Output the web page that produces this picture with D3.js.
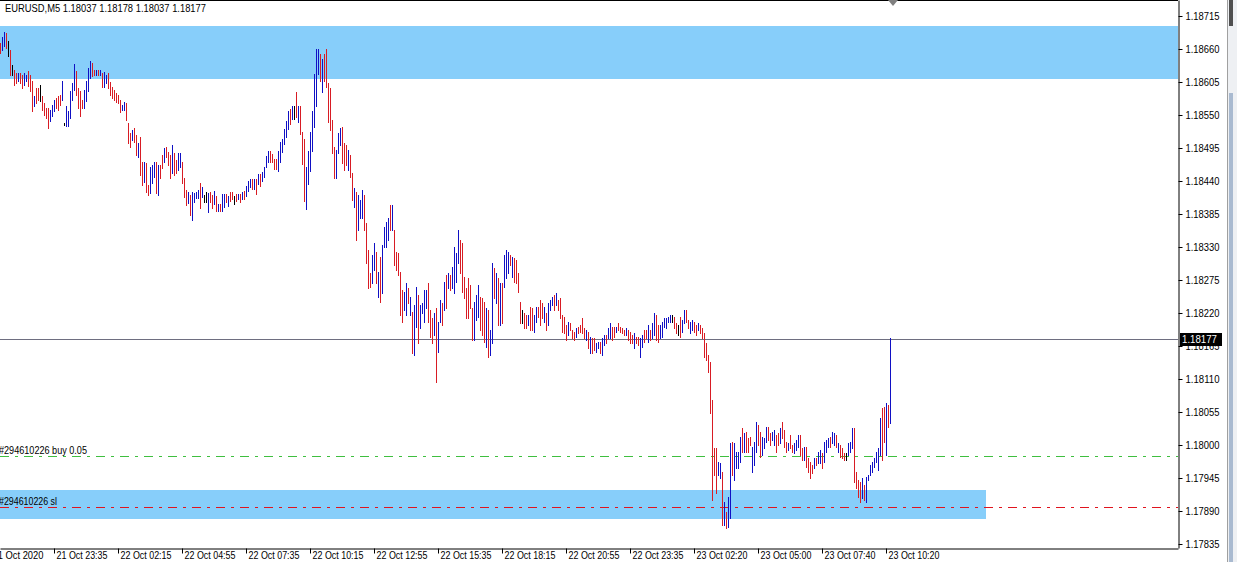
<!DOCTYPE html>
<html><head><meta charset="utf-8">
<script src="https://cdn.jsdelivr.net/npm/d3@7"></script>
<style>
html,body{margin:0;padding:0;background:#fff;overflow:hidden}
svg{display:block}
text{font-family:"Liberation Sans",Arial,sans-serif;font-size:10.5px;fill:#000}
</style>
</head><body>
<svg id="chart" width="1237" height="562"></svg>
<script>
// ---------- data (EURUSD, M5) ----------
const highs = [
1.18670,1.18680,1.18688,1.18687,1.18673,1.18658,1.18633,1.18625,1.18620,1.18620,
1.18620,1.18617,1.18620,1.18617,1.18623,1.18617,1.18607,1.18582,1.18595,1.18595,
1.18600,1.18582,1.18570,1.18562,1.18562,1.18558,1.18567,1.18575,1.18578,1.18582,
1.18583,1.18607,1.18536,1.18565,1.18557,1.18590,1.18603,1.18635,1.18623,1.18595,
1.18590,1.18575,1.18592,1.18607,1.18628,1.18640,1.18637,1.18625,1.18625,1.18625,
1.18625,1.18620,1.18622,1.18617,1.18620,1.18605,1.18597,1.18592,1.18587,1.18583,
1.18575,1.18567,1.18572,1.18570,1.18537,1.18520,1.18525,1.18528,1.18517,1.18503,
1.18513,1.18472,1.18472,1.18470,1.18433,1.18463,1.18467,1.18472,1.18472,1.18467,
1.18467,1.18483,1.18495,1.18497,1.18488,1.18483,1.18500,1.18487,1.18475,1.18487,
1.18487,1.18472,1.18445,1.18425,1.18422,1.18417,1.18422,1.18420,1.18422,1.18425,
1.18437,1.18430,1.18417,1.18422,1.18420,1.18422,1.18417,1.18423,1.18415,1.18402,
1.18402,1.18418,1.18418,1.18418,1.18415,1.18422,1.18422,1.18415,1.18418,1.18418,
1.18418,1.18422,1.18423,1.18432,1.18440,1.18443,1.18443,1.18443,1.18443,1.18452,
1.18452,1.18455,1.18463,1.18482,1.18490,1.18490,1.18485,1.18477,1.18477,1.18490,
1.18505,1.18510,1.18527,1.18540,1.18557,1.18560,1.18565,1.18565,1.18588,1.18565,
1.18565,1.18522,1.18510,1.18463,1.18490,1.18522,1.18557,1.18618,1.18660,1.18660,
1.18652,1.18643,1.18652,1.18660,1.18603,1.18595,1.18542,1.18497,1.18492,1.18520,
1.18528,1.18530,1.18503,1.18500,1.18492,1.18483,1.18453,1.18428,1.18422,1.18417,
1.18408,1.18425,1.18417,1.18370,1.18325,1.18287,1.18317,1.18337,1.18322,1.18288,
1.18313,1.18333,1.18363,1.18372,1.18378,1.18400,1.18400,1.18358,1.18322,1.18320,
1.18288,1.18258,1.18255,1.18270,1.18262,1.18247,1.18222,1.18233,1.18263,1.18250,
1.18233,1.18237,1.18258,1.18258,1.18270,1.18225,1.18212,1.18220,1.18228,1.18205,
1.18242,1.18237,1.18272,1.18283,1.18287,1.18283,1.18297,1.18330,1.18320,1.18358,
1.18342,1.18337,1.18280,1.18262,1.18278,1.18267,1.18228,1.18238,1.18250,1.18267,
1.18247,1.18245,1.18238,1.18228,1.18225,1.18192,1.18303,1.18295,1.18287,1.18278,
1.18270,1.18270,1.18317,1.18325,1.18322,1.18317,1.18313,1.18312,1.18308,1.18287,
1.18238,1.18225,1.18220,1.18217,1.18217,1.18230,1.18228,1.18217,1.18230,1.18230,
1.18242,1.18237,1.18230,1.18220,1.18237,1.18242,1.18247,1.18250,1.18253,1.18242,
1.18245,1.18217,1.18213,1.18200,1.18205,1.18203,1.18192,1.18188,1.18195,1.18197,
1.18200,1.18212,1.18195,1.18192,1.18188,1.18180,1.18178,1.18178,1.18170,1.18172,
1.18172,1.18178,1.18183,1.18183,1.18195,1.18203,1.18197,1.18197,1.18197,1.18203,
1.18197,1.18195,1.18192,1.18195,1.18192,1.18188,1.18183,1.18187,1.18180,1.18180,
1.18178,1.18183,1.18192,1.18192,1.18200,1.18192,1.18203,1.18220,1.18217,1.18200,
1.18200,1.18205,1.18212,1.18212,1.18213,1.18217,1.18217,1.18213,1.18203,1.18200,
1.18213,1.18208,1.18225,1.18225,1.18208,1.18205,1.18208,1.18205,1.18200,1.18203,
1.18200,1.18195,1.18187,1.18170,1.18150,1.18138,1.18075,1.17995,1.17995,1.17972,
1.17970,1.17955,1.17905,1.17888,1.17913,1.18003,1.18005,1.18003,1.17988,1.17988,
1.18013,1.18028,1.18020,1.18022,1.18012,1.18013,1.17997,1.18005,1.18038,1.18033,
1.18022,1.18013,1.18012,1.18030,1.18030,1.18020,1.18022,1.18025,1.18017,1.18020,
1.18028,1.18038,1.18025,1.18005,1.18003,1.18017,1.18000,1.18003,1.18008,1.18017,
1.18017,1.17995,1.17997,1.17997,1.17978,1.17972,1.17967,1.17978,1.17978,1.17988,
1.17992,1.17987,1.18005,1.18008,1.18012,1.18013,1.18022,1.18020,1.18017,1.18003,
1.18000,1.17995,1.17987,1.17987,1.18003,1.18005,1.18028,1.18028,1.17955,1.17942,
1.17938,1.17945,1.17933,1.17947,1.17950,1.17967,1.17972,1.17978,1.17988,1.17995,
1.18045,1.18062,1.18063,1.18070,1.18067,1.18178
];
const lows = [
1.18653,1.18658,1.18665,1.18662,1.18648,1.18617,1.18617,1.18600,1.18603,1.18607,
1.18603,1.18595,1.18600,1.18607,1.18598,1.18590,1.18557,1.18565,1.18570,1.18575,
1.18573,1.18558,1.18550,1.18545,1.18528,1.18540,1.18548,1.18557,1.18562,1.18558,
1.18567,1.18575,1.18534,1.18532,1.18532,1.18545,1.18575,1.18592,1.18583,1.18562,
1.18548,1.18562,1.18562,1.18573,1.18590,1.18612,1.18615,1.18617,1.18617,1.18617,
1.18617,1.18597,1.18597,1.18603,1.18595,1.18583,1.18578,1.18575,1.18572,1.18570,
1.18555,1.18558,1.18558,1.18542,1.18503,1.18497,1.18508,1.18505,1.18483,1.18480,
1.18450,1.18433,1.18438,1.18422,1.18417,1.18420,1.18437,1.18447,1.18420,1.18417,
1.18445,1.18462,1.18472,1.18480,1.18467,1.18445,1.18453,1.18450,1.18453,1.18458,
1.18463,1.18437,1.18413,1.18400,1.18403,1.18383,1.18375,1.18405,1.18412,1.18412,
1.18395,1.18413,1.18405,1.18405,1.18388,1.18405,1.18395,1.18402,1.18390,1.18390,
1.18390,1.18390,1.18397,1.18405,1.18398,1.18407,1.18410,1.18402,1.18407,1.18410,
1.18405,1.18410,1.18410,1.18415,1.18423,1.18430,1.18427,1.18427,1.18418,1.18435,
1.18432,1.18440,1.18447,1.18463,1.18472,1.18472,1.18472,1.18460,1.18460,1.18457,
1.18472,1.18488,1.18502,1.18513,1.18527,1.18535,1.18543,1.18543,1.18547,1.18538,
1.18518,1.18468,1.18407,1.18393,1.18435,1.18457,1.18490,1.18530,1.18565,1.18618,
1.18607,1.18588,1.18607,1.18597,1.18538,1.18525,1.18487,1.18445,1.18445,1.18487,
1.18500,1.18470,1.18458,1.18467,1.18458,1.18447,1.18408,1.18397,1.18342,1.18358,
1.18378,1.18378,1.18358,1.18303,1.18262,1.18263,1.18270,1.18292,1.18270,1.18247,
1.18238,1.18253,1.18330,1.18330,1.18342,1.18358,1.18358,1.18300,1.18292,1.18283,
1.18217,1.18205,1.18225,1.18217,1.18237,1.18217,1.18153,1.18150,1.18197,1.18170,
1.18195,1.18220,1.18205,1.18228,1.18205,1.18180,1.18170,1.18183,1.18105,1.18155,
1.18205,1.18200,1.18225,1.18228,1.18262,1.18258,1.18262,1.18253,1.18272,1.18303,
1.18287,1.18255,1.18245,1.18212,1.18212,1.18228,1.18175,1.18175,1.18208,1.18213,
1.18192,1.18183,1.18172,1.18163,1.18147,1.18150,1.18170,1.18245,1.18237,1.18200,
1.18200,1.18203,1.18263,1.18278,1.18287,1.18300,1.18280,1.18272,1.18270,1.18255,
1.18203,1.18203,1.18195,1.18195,1.18200,1.18192,1.18192,1.18188,1.18205,1.18213,
1.18200,1.18212,1.18205,1.18192,1.18200,1.18225,1.18233,1.18225,1.18233,1.18225,
1.18212,1.18188,1.18187,1.18175,1.18183,1.18192,1.18178,1.18175,1.18180,1.18187,
1.18188,1.18187,1.18178,1.18175,1.18162,1.18153,1.18153,1.18158,1.18155,1.18162,
1.18153,1.18150,1.18167,1.18170,1.18178,1.18178,1.18175,1.18180,1.18188,1.18192,
1.18188,1.18187,1.18183,1.18183,1.18175,1.18170,1.18170,1.18162,1.18170,1.18167,
1.18147,1.18163,1.18172,1.18178,1.18172,1.18175,1.18178,1.18183,1.18175,1.18172,
1.18178,1.18180,1.18197,1.18195,1.18205,1.18205,1.18205,1.18195,1.18187,1.18183,
1.18180,1.18188,1.18203,1.18205,1.18195,1.18187,1.18192,1.18188,1.18183,1.18192,
1.18187,1.18178,1.18147,1.18142,1.18122,1.18053,1.17908,1.17950,1.17920,1.17950,
1.17945,1.17867,1.17867,1.17862,1.17863,1.17878,1.17950,1.17942,1.17962,1.17962,
1.17972,1.17988,1.17988,1.17988,1.17988,1.18000,1.17955,1.17967,1.17988,1.18000,
1.17980,1.17983,1.17995,1.18005,1.18008,1.18000,1.18008,1.18000,1.17988,1.18000,
1.18003,1.18012,1.17997,1.17988,1.17992,1.17995,1.17988,1.17987,1.17992,1.17997,
1.17983,1.17975,1.17975,1.17963,1.17955,1.17945,1.17953,1.17962,1.17967,1.17970,
1.17970,1.17962,1.17972,1.17988,1.17997,1.17997,1.18003,1.18000,1.17997,1.17988,
1.17980,1.17978,1.17975,1.17975,1.17983,1.17988,1.17995,1.17938,1.17928,1.17913,
1.17905,1.17912,1.17908,1.17905,1.17942,1.17950,1.17955,1.17963,1.17972,1.17958,
1.17983,1.17975,1.18005,1.17983,1.18030,1.18037
];
// bar direction: u = up (close > open), d = down, n = unchanged
const dirChunks = [
"duudndnddu","dduudddudd","ndddduuudd","dunuuuuudd","dduuuuddud",
"uduudddddd","duuddduddu","ddudduuudu","dduddduddu","uddduduuuu",
"dunnuddudu","duududdndu","duduuududu","duuuuddddu","uuuuudundu",
"ddduuuuuuu","dudddddduu","uddduddudu","uudddduudu","duuuududdd",
"dduududuud","uuuudddudu","udududuuuu","ddddddduuu","ddduduudud",
"uduuududdd","dnddudduud","dduduuudud","ddddudddud","dddududduu",
"duuduuddud","dddudddudd","uudduduudd","uuuuuunddn","duudduuddu",
"dddddddddu","ududuuduuu","ududdduuud","duuudduudd","udddudduuu",
"dduddddudu","uduuuduudu","dddnuuuddd","duduuuuuuu","uddudu"
];
const dirs = dirChunks.join("").split("");

const symbolTitle = "EURUSD,M5";
const lastQuote = [1.18037, 1.18178, 1.18037, 1.18177]; // O H L C of the last bar
const bidPrice = 1.18177;

const priceTicks = [1.18715,1.18660,1.18605,1.18550,1.18495,1.18440,1.18385,1.18330,1.18275,
                    1.18220,1.18165,1.18110,1.18055,1.18000,1.17945,1.17890,1.17835];

const timeLabels = ["21 Oct 2020","21 Oct 23:35","22 Oct 02:15","22 Oct 04:55","22 Oct 07:35",
  "22 Oct 10:15","22 Oct 12:55","22 Oct 15:35","22 Oct 18:15","22 Oct 20:55","22 Oct 23:35",
  "23 Oct 02:20","23 Oct 05:00","23 Oct 07:40","23 Oct 10:20"];
const timeLabelBars = [-5,27,59,91,123,155,187,219,251,283,315,347,379,411,443];

// supply / demand rectangles (price range, bar range)
const zoneHighs = [1.18698, 1.17925];
const zoneLows  = [1.18610, 1.17877];
const zoneFromBars = [-20, -20];
const zoneToBars   = [700, 493];

// order lines
const orderLabels = ["#294610226 buy 0.05", "#294610226 sl"];
const orderPrices = [1.17982, 1.17897];
const orderColors = ["#3fbf3f", "#e0141e"];

// ---------- drawing ----------
const PW = 1178, PH = 548;           // plot area
const svg = d3.select("#chart");
const x = d3.scaleLinear().domain([0, PW / 2]).range([0, PW]);
const y = d3.scaleLinear().domain([1.18715 - 532/60000, 1.18715 + 16/60000]).range([PH, 0]);
const barColor = {u: "#1010c4", d: "#d81c24", n: "#000000"};

svg.append("rect").attr("width", 1237).attr("height", 562).attr("fill", "#fff");

svg.append("defs").append("clipPath").attr("id", "plotclip")
  .append("rect").attr("x", 0).attr("y", 0).attr("width", PW).attr("height", PH);
const plot = svg.append("g").attr("clip-path", "url(#plotclip)").attr("shape-rendering", "crispEdges");

// zones
plot.selectAll("rect.zone").data(zoneHighs).join("rect").attr("class", "zone")
  .attr("x", (d, i) => x(zoneFromBars[i]))
  .attr("width", (d, i) => x(zoneToBars[i]) - x(zoneFromBars[i]))
  .attr("y", d => Math.round(y(d)))
  .attr("height", (d, i) => Math.round(y(zoneLows[i])) - Math.round(y(d)))
  .attr("fill", "#87cefa");

// bid line
plot.append("line").attr("x1", 0).attr("x2", PW)
  .attr("y1", Math.round(y(bidPrice)) + 0.5).attr("y2", Math.round(y(bidPrice)) + 0.5)
  .attr("stroke", "#6e6e80").attr("stroke-width", 1);

// order lines: dash-dot drawn as small rectangles so the colour stays exact
const dashPattern = [[0, 9], [15, 3]];   // [offset, length] within an 24px period
orderPrices.forEach((p, k) => {
  const yy = Math.round(y(p));
  const segs = [];
  for (let s = 0; s < PW; s += 24) dashPattern.forEach(([o, l]) => segs.push(s + o));
  plot.append("g").selectAll("rect").data(segs).join("rect")
    .attr("x", d => d).attr("y", yy).attr("height", 1)
    .attr("width", (d, i) => dashPattern[i % 2][1])
    .attr("fill", orderColors[k]);
});

// bars
plot.selectAll("rect.bar").data(highs).join("rect").attr("class", "bar")
  .attr("x", (d, i) => x(i))
  .attr("width", 1)
  .attr("y", d => Math.round(y(d)))
  .attr("height", (d, i) => Math.max(1, Math.round(y(lows[i])) - Math.round(y(d)) + 1))
  .attr("fill", (d, i) => barColor[dirs[i]]);

// order labels
svg.selectAll("text.olab").data(orderLabels).join("text").attr("class", "olab")
  .attr("x", -1).attr("y", (d, i) => Math.round(y(orderPrices[i])) - 2)
  .attr("textLength", (d, i) => i === 0 ? 88 : 58).attr("lengthAdjust", "spacingAndGlyphs")
  .text(d => d);

// header
svg.append("text").attr("x", 5).attr("y", 12)
  .attr("textLength", 201).attr("lengthAdjust", "spacingAndGlyphs")
  .text(symbolTitle + "  " + lastQuote.map(d3.format(".5f")).join(" "));

// right price axis
const yAxis = svg.append("g").attr("transform", `translate(${PW + 0.5},0)`)
  .call(d3.axisRight(y).tickValues(priceTicks).tickFormat(d3.format(".5f")).tickSize(4).tickSizeOuter(0).tickPadding(3));
yAxis.attr("font-size", null).attr("font-family", null);
yAxis.select(".domain").attr("stroke", "#000");
yAxis.selectAll(".tick line").attr("stroke", "#000");
yAxis.selectAll(".tick text").attr("fill", "#000")
  .attr("textLength", 34).attr("lengthAdjust", "spacingAndGlyphs");

// bid price label box
const by = Math.round(y(bidPrice));
svg.append("rect").attr("x", PW + 2).attr("y", by - 6).attr("width", 42).attr("height", 13).attr("fill", "#000");
svg.append("text").attr("x", PW + 4).attr("y", by + 4).style("fill", "#fff")
  .attr("textLength", 35).attr("lengthAdjust", "spacingAndGlyphs").text(d3.format(".5f")(bidPrice));

// bottom time axis
const xAxis = svg.append("g").attr("transform", `translate(0,${PH + 0.5})`)
  .call(d3.axisBottom(x).tickValues(timeLabelBars).tickFormat((d, i) => timeLabels[i]).tickSize(5).tickSizeOuter(0));
xAxis.attr("font-size", null).attr("font-family", null);
xAxis.select(".domain").attr("stroke", "#000");
xAxis.selectAll(".tick line").attr("stroke", "#000");
xAxis.selectAll(".tick text").attr("text-anchor", "start").attr("x", 2).attr("y", 3).attr("dy", "0.71em")
  .attr("fill", "#000")
  .attr("textLength", 51).attr("lengthAdjust", "spacingAndGlyphs");

// chart frame and window chrome
svg.append("line").attr("x1", 0).attr("x2", PW).attr("y1", 0.5).attr("y2", 0.5).attr("stroke", "#000");
svg.append("path").attr("d", "M888,0 L898,0 L893,6 Z").attr("fill", "#808080");
svg.append("rect").attr("x", 1227).attr("y", 0).attr("width", 1).attr("height", 562).attr("fill", "#a0a0a0");
svg.append("rect").attr("x", 1228).attr("y", 0).attr("width", 9).attr("height", 562).attr("fill", "#eef0f3");
svg.append("rect").attr("x", 1229).attr("y", 0).attr("width", 4).attr("height", 26).attr("fill", "#505050");
svg.append("rect").attr("x", 1229).attr("y", 93).attr("width", 4).attr("height", 469).attr("fill", "#a9bad0");
</script>
</body></html>
